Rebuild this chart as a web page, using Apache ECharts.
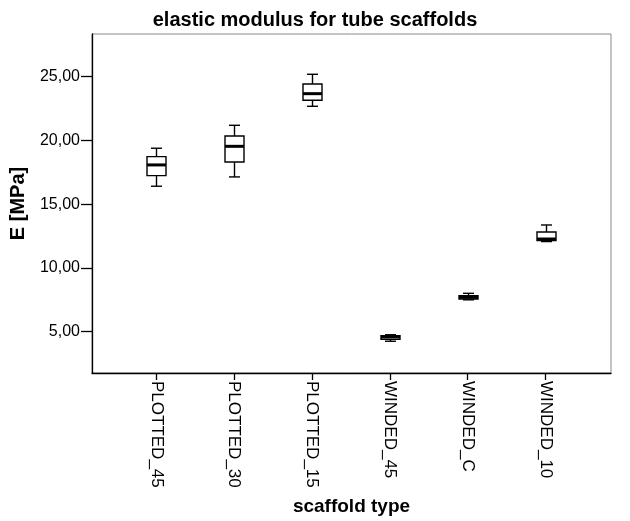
<!DOCTYPE html>
<html>
<head>
<meta charset="utf-8">
<title>elastic modulus for tube scaffolds</title>
<script src="https://cdn.jsdelivr.net/npm/echarts@6/dist/echarts.min.js"></script>
<style>
    html,body{margin:0;padding:0;background:#fff;}
    #js-box{width:630px;height:521px;}
</style>
</head>
<body>
<div id="js-box"></div>
<script>
// categories
var scaffoldTypes = ['PLOTTED_45','PLOTTED_30','PLOTTED_15','WINDED_45','WINDED_C','WINDED_10'];
// box values: low whisker, Q1, median, Q3, high whisker
var lowWhisker = [16.41, 17.14, 22.68, 4.25, 7.50, 12.07];
var q1Values   = [17.24, 18.31, 23.15, 4.40, 7.56, 12.15];
var medians    = [18.08, 19.54, 23.67, 4.58, 7.70, 12.27];
var q3Values   = [18.73, 20.35, 24.43, 4.69, 7.82, 12.82];
var highWhisker= [19.39, 21.19, 25.19, 4.76, 8.01, 13.37];
// tick labels
var yTicks = [5, 10, 15, 20, 25];

var boxData = [];
for (var i = 0; i < scaffoldTypes.length; i++) {
    boxData.push([i, lowWhisker[i], q1Values[i], medians[i], q3Values[i], highWhisker[i]]);
}
var xIdx = [];
for (var i = 0; i < scaffoldTypes.length; i++) xIdx.push(i);

var chart = echarts.init(document.getElementById('js-box'), null, {renderer:'canvas'});

//画箱体
function renderBox(params, api) {
    var x = api.value(0);
    var pLow = api.coord([x, api.value(1)]);
    var pQ1 = api.coord([x, api.value(2)]);
    var pMed = api.coord([x, api.value(3)]);
    var pQ3 = api.coord([x, api.value(4)]);
    var pHigh = api.coord([x, api.value(5)]);
    var cx = Math.round(pMed[0]) + 0.5;
    var bw = 19, cw = 11;
    var line = {stroke:'#000', lineWidth:1.4};
    return {
        type:'group',
        children:[
            {type:'line', shape:{x1:cx, y1:pHigh[1], x2:cx, y2:pQ3[1]}, style:line},
            {type:'line', shape:{x1:cx, y1:pQ1[1], x2:cx, y2:pLow[1]}, style:line},
            {type:'line', shape:{x1:cx-cw/2, y1:pHigh[1], x2:cx+cw/2, y2:pHigh[1]}, style:line},
            {type:'line', shape:{x1:cx-cw/2, y1:pLow[1], x2:cx+cw/2, y2:pLow[1]}, style:line},
            {type:'rect', shape:{x:cx-bw/2, y:pQ3[1], width:bw, height:pQ1[1]-pQ3[1]},
                style:{fill:'#fff', stroke:'#000', lineWidth:1.4}},
            {type:'line', shape:{x1:cx-bw/2, y1:pMed[1], x2:cx+bw/2, y2:pMed[1]},
                style:{stroke:'#000', lineWidth:3}}
        ]
    };
}

var option = {
    backgroundColor:'#fff',
    animation:false,
    title:{
        text:'elastic modulus for tube scaffolds',
        left:'center',
        top:5,
        textStyle:{fontFamily:'Liberation Sans', fontSize:20, fontWeight:'bold', color:'#000'}
    },
    grid:{
        left:92, right:19, top:34, bottom:148,
        show:true, borderColor:'#888', borderWidth:1
    },
    xAxis:{
        type:'value',
        min:-0.825,
        max:5.84,
        name:'scaffold type',
        nameLocation:'middle',
        nameGap:124,
        nameTextStyle:{fontFamily:'Liberation Sans', fontSize:19, fontWeight:'bold', color:'#000'},
        splitLine:{show:false},
        axisLine:{onZero:false, lineStyle:{color:'#000', width:1.3}},
        axisTick:{customValues:xIdx, length:7, lineStyle:{color:'#000', width:1.3}},
        axisLabel:{
            customValues:xIdx,
            rotate:-90,
            margin:8,
            fontFamily:'Liberation Sans',
            fontSize:17,
            color:'#000',
            formatter:function (v) { return scaffoldTypes[Math.round(v)] || ''; }
        }
    },
    yAxis:{
        type:'value',
        min:1.76,
        max:28.35,
        name:'E [MPa]',
        nameLocation:'middle',
        nameRotate:90,
        nameGap:64,
        nameTextStyle:{fontFamily:'Liberation Sans', fontSize:20, fontWeight:'bold', color:'#000'},
        splitLine:{show:false},
        axisLine:{show:true, onZero:false, lineStyle:{color:'#000', width:1.3}},
        axisTick:{show:true, customValues:yTicks, length:11, lineStyle:{color:'#000', width:1.3}},
        axisLabel:{
            customValues:yTicks,
            margin:12,
            fontFamily:'Liberation Sans',
            fontSize:16,
            color:'#000',
            formatter:function (v) { return v.toFixed(2).replace('.', ','); }
        }
    },
    series:[
        {
            type:'custom',
            renderItem:renderBox,
            encode:{x:0, y:[1,2,3,4,5]},
            data:boxData
        }
    ]
};
chart.setOption(option);
</script>
</body>
</html>
